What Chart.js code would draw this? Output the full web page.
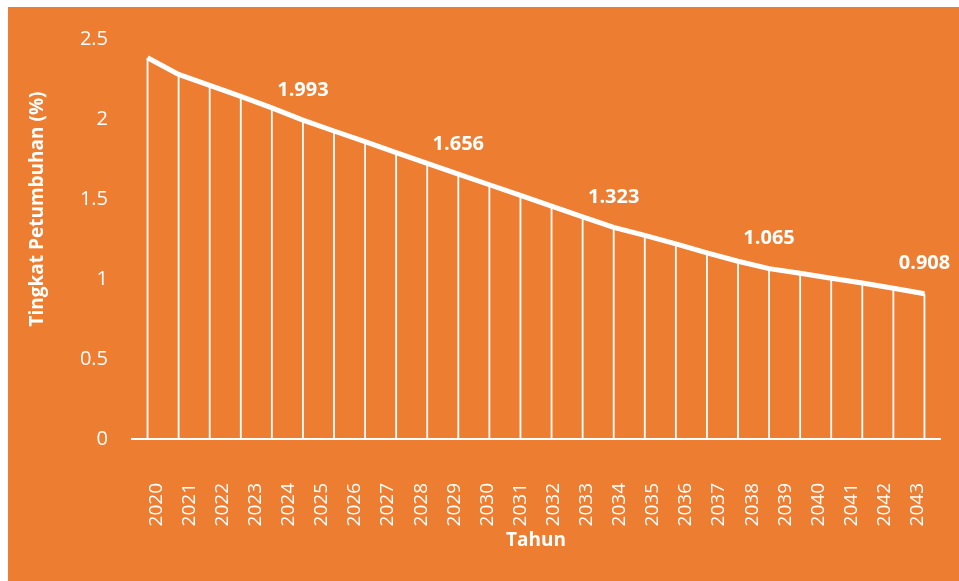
<!DOCTYPE html>
<html lang="en">
<head>
<meta charset="utf-8">
<script src="https://cdn.jsdelivr.net/npm/chart.js@4.4.1/dist/chart.umd.min.js"></script>
<style>
  html, body { margin: 0; padding: 0; background: #ffffff; }
</style>
</head>
<body>
<canvas id="myChart" width="959" height="581"></canvas>
<script>

// tick labels on the year axis (the picture shows 24 of them)
const years = ['2020', '2021', '2022', '2023', '2024', '2025', '2026', '2027',
               '2028', '2029', '2030', '2031', '2032', '2033', '2034', '2035',
               '2036', '2037', '2038', '2039', '2040', '2041', '2042', '2043'];

// growth rate (%), one per drop line (26 of them)
const growth = [2.383, 2.279, 2.210, 2.141, 2.069, 1.993, 1.925, 1.858, 1.790, 1.723,
                1.656, 1.589, 1.522, 1.455, 1.388, 1.323, 1.273, 1.219, 1.163, 1.111,
                1.065, 1.036, 1.005, 0.975, 0.942, 0.908];

// points that carry a value label
const labelled = [5, 10, 15, 20, 25];

const FONT = "'Open Sans', 'Noto Sans', sans-serif";
const ORANGE = '#ED7D31';
const WHITE = '#ffffff';

const background = {
    id: 'background',
    beforeDraw(chart) {
        const c = chart.ctx;
        c.save();
        c.fillStyle = WHITE;
        c.fillRect(0, 0, chart.width, chart.height);
        c.fillStyle = ORANGE;
        c.fillRect(8, 7, chart.width - 8, chart.height - 7);
        c.restore();
    }
};

// vertical lines from each point down to zero
const dropLines = {
    id: 'dropLines',
    beforeDatasetsDraw(chart) {
        const c = chart.ctx;
        const meta = chart.getDatasetMeta(0);
        const y0 = chart.scales.y.getPixelForValue(0);
        c.save();
        c.strokeStyle = WHITE;
        c.lineWidth = 1.8;
        meta.data.forEach(pt => {
            c.beginPath();
            c.moveTo(pt.x, pt.y);
            c.lineTo(pt.x, y0);
            c.stroke();
        });
        c.restore();
    }
};

const valueLabels = {
    id: 'valueLabels',
    afterDatasetsDraw(chart) {
        const c = chart.ctx;
        const meta = chart.getDatasetMeta(0);
        c.save();
        c.fillStyle = WHITE;
        c.font = 'bold 20px ' + FONT;
        c.textAlign = 'center';
        c.textBaseline = 'middle';
        labelled.forEach(i => {
            const pt = meta.data[i];
            c.fillText(String(growth[i]), pt.x, pt.y - 30);
        });
        c.restore();
    }
};

const yTitle = {
    id: 'yTitle',
    afterDraw(chart) {
        const c = chart.ctx;
        c.save();
        c.translate(38, 209);
        c.rotate(-Math.PI / 2);
        c.fillStyle = WHITE;
        c.font = 'bold 19px ' + FONT;
        c.textAlign = 'center';
        c.textBaseline = 'middle';
        c.fillText('Tingkat Petumbuhan (%)', 0, 0);
        c.restore();
    }
};

const ctx = document.getElementById('myChart').getContext('2d');

const myChart = new Chart(ctx, {
    type: 'line',
    data: {
        datasets: [{
            data: growth.map((v, i) => ({ x: i, y: v })),
            xAxisID: 'x',
            yAxisID: 'y',
            borderColor: WHITE,
            borderWidth: 5,
            pointRadius: 0,
            tension: 0,
            fill: false
        }]
    },
    options: {
        responsive: false,
        animation: false,
        layout: { padding: { left: 0, right: 19, top: 39, bottom: 0 } },
        plugins: {
            legend: { display: false },
            tooltip: { enabled: false }
        },
        scales: {
            x: {
                type: 'linear',
                min: -0.5,
                max: growth.length - 0.5,
                display: false
            },
            x2: {
                type: 'linear',
                position: 'bottom',
                min: -0.734,
                max: 23.676,
                afterBuildTicks: s => { s.ticks = years.map((y, i) => ({ value: i })); },
                afterFit: s => {
                    s.height = 142;
                    s.paddingLeft = 0;
                    s.paddingRight = 0;
                },
                ticks: {
                    callback: (v, i) => years[i],
                    autoSkip: false,
                    minRotation: 90,
                    maxRotation: 90,
                    padding: 44,
                    color: WHITE,
                    font: { family: FONT, size: 19 }
                },
                grid: { display: false, drawTicks: false },
                border: { display: true, color: WHITE, width: 2 },
                title: {
                    display: true,
                    text: 'Tahun',
                    color: WHITE,
                    font: { family: FONT, size: 19, weight: 'bold' },
                    padding: { top: 0, bottom: 29 }
                }
            },
            y: {
                min: 0,
                max: 2.5,
                afterFit: s => { s.width = 132; },
                ticks: {
                    stepSize: 0.5,
                    padding: 24,
                    callback: v => String(v),
                    color: WHITE,
                    font: { family: FONT, size: 20 }
                },
                grid: { display: false, drawTicks: false },
                border: { display: false }
            }
        }
    },
    plugins: [background, dropLines, valueLabels, yTitle]
});
</script>
</body>
</html>
